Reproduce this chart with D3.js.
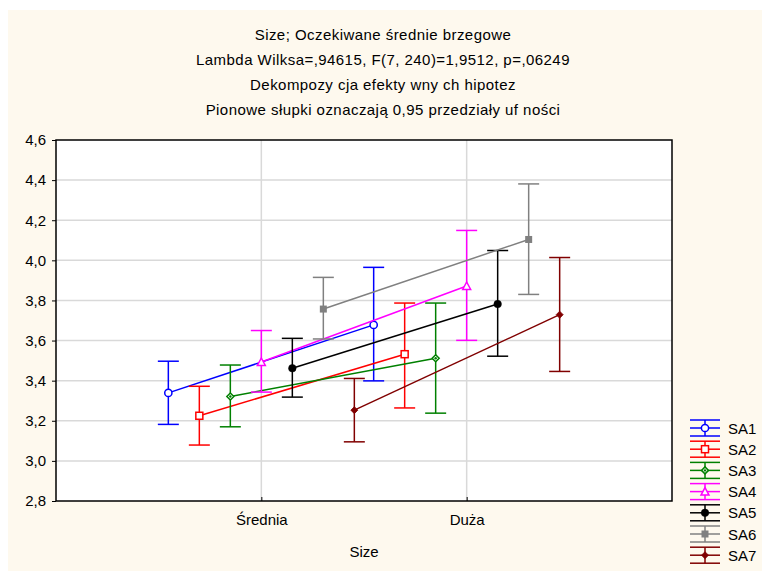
<!DOCTYPE html>
<html>
<head>
<meta charset="utf-8">
<script src="https://cdn.jsdelivr.net/npm/d3@7"></script>
<style>
  body { margin: 0; background: #fff; }
  svg { display: block; font-family: "Liberation Sans", Arial, sans-serif; }
</style>
</head>
<body>
<div id="chart"></div>
<script>
// Data
var categories = ["Średnia", "Duża"];
var seriesNames = ["SA1", "SA2", "SA3", "SA4", "SA5", "SA6", "SA7"];
var means = [
  [3.339, 3.678],
  [3.225, 3.532],
  [3.321, 3.512],
  [3.493, 3.872],
  [3.462, 3.782],
  [3.757, 4.104],
  [3.253, 3.729]
];
var lowerCI = [
  [3.182, 3.399],
  [3.079, 3.264],
  [3.170, 3.238],
  [3.343, 3.601],
  [3.318, 3.522],
  [3.608, 3.830],
  [3.095, 3.446]
];
var upperCI = [
  [3.497, 3.965],
  [3.372, 3.787],
  [3.478, 3.787],
  [3.650, 4.149],
  [3.611, 4.049],
  [3.915, 4.381],
  [3.411, 4.014]
];
var yTicks = [2.8, 3.0, 3.2, 3.4, 3.6, 3.8, 4.0, 4.2, 4.4, 4.6];
var titleLines = [
  "Size; Oczekiwane średnie brzegowe",
  "Lambda Wilksa=,94615, F(7, 240)=1,9512, p=,06249",
  "Dekompozy cja efekty wny ch hipotez",
  "Pionowe słupki oznaczają 0,95 przedziały  uf ności"
];

var colors = ["#0000ff", "#ff0000", "#008000", "#ff00ff", "#000000", "#808080", "#800000"];
var markers = ["circleOpen", "squareOpen", "diamondOpen", "triangleOpen", "circle", "square", "diamond"];

var W = 762, H = 571;
var plot = { left: 56, right: 672, top: 140, bottom: 501 };
var fontSize = "15px";

var svg = d3.select("#chart").append("svg")
  .attr("width", W)
  .attr("height", H);

// cream background
svg.append("rect")
  .attr("x", 8).attr("y", 10)
  .attr("width", W - 8).attr("height", H - 10)
  .attr("fill", "#fef9ee");

// titles
svg.selectAll(".title")
  .data(titleLines)
  .enter().append("text")
  .attr("class", "title")
  .attr("x", 383)
  .attr("y", (d, i) => 40 + i * 25)
  .attr("text-anchor", "middle")
  .style("font-size", fontSize)
  .style("letter-spacing", "0.45px")
  .attr("fill", "#000")
  .text(d => d);

// scales
var x = d3.scalePoint().domain(categories).range([plot.left, plot.right]).padding(1);
var xOff = d3.scalePoint().domain(seriesNames).range([-93, 93]);
var y = d3.scaleLinear().domain([2.8, 4.6]).range([plot.bottom, plot.top]);

// plot background
svg.append("rect")
  .attr("x", plot.left).attr("y", plot.top)
  .attr("width", plot.right - plot.left).attr("height", plot.bottom - plot.top)
  .attr("fill", "#fff");

// grid
svg.append("g").selectAll("line")
  .data(yTicks.slice(1, -1))
  .enter().append("line")
  .attr("x1", plot.left).attr("x2", plot.right)
  .attr("y1", d => y(d)).attr("y2", d => y(d))
  .attr("stroke", "#d9d9d9").attr("stroke-width", 1.5);

svg.append("g").selectAll("line")
  .data(categories)
  .enter().append("line")
  .attr("x1", d => x(d)).attr("x2", d => x(d))
  .attr("y1", plot.top).attr("y2", plot.bottom)
  .attr("stroke", "#d9d9d9").attr("stroke-width", 1.5);

// axes
var yAxis = svg.append("g")
  .attr("transform", "translate(" + plot.left + ",0)")
  .call(d3.axisLeft(y).tickValues(yTicks).tickSize(4).tickPadding(6)
    .tickFormat(d => d3.format(".1f")(d).replace(".", ",")));
yAxis.select(".domain").remove();
yAxis.selectAll("text").style("font-size", fontSize).attr("fill", "#000")
  .style("font-family", "'Liberation Sans', Arial, sans-serif");

var xAxis = svg.append("g")
  .attr("transform", "translate(0," + plot.bottom + ")")
  .call(d3.axisBottom(x).tickSize(-4).tickPadding(13));
xAxis.select(".domain").remove();
xAxis.selectAll("text").style("font-size", fontSize).attr("fill", "#000")
  .style("font-family", "'Liberation Sans', Arial, sans-serif");

svg.append("text")
  .attr("x", (plot.left + plot.right) / 2)
  .attr("y", 557)
  .attr("text-anchor", "middle")
  .style("font-size", fontSize)
  .text("Size");

// marker drawing
function drawMarker(g, type, color) {
  var open = type.indexOf("Open") >= 0;
  var fill = open ? "#fff" : color;
  if (type.indexOf("circle") === 0) {
    g.append("circle").attr("r", open ? 3.6 : 3.8)
      .attr("fill", fill).attr("stroke", color).attr("stroke-width", open ? 1.5 : 0.5);
  } else if (type.indexOf("square") === 0) {
    g.append("rect").attr("x", -3.5).attr("y", -3.5).attr("width", 7).attr("height", 7)
      .attr("fill", fill).attr("stroke", color).attr("stroke-width", open ? 1.5 : 0);
  } else if (type.indexOf("triangle") === 0) {
    g.append("path").attr("d", "M0,-4L4,3.5L-4,3.5Z")
      .attr("fill", fill).attr("stroke", color).attr("stroke-width", 1.5);
  } else if (type === "diamondOpen") {
    g.append("path").attr("d", "M0,-3.5L3.5,0L0,3.5L-3.5,0Z")
      .attr("fill", "#fff").attr("stroke", color).attr("stroke-width", 1.5);
    g.append("circle").attr("r", 1.2).attr("fill", color);
  } else {
    g.append("path").attr("d", "M0,-3.5L3.5,0L0,3.5L-3.5,0Z")
      .attr("fill", color).attr("stroke", color).attr("stroke-width", 0.8);
  }
}

// series
var capW = 10.5;
seriesNames.forEach(function(name, s) {
  var col = colors[s];
  var g = svg.append("g").attr("class", "series");
  var pts = categories.map((c, i) => ({
    x: x(c) + xOff(name), m: means[s][i], lo: lowerCI[s][i], hi: upperCI[s][i]
  }));

  // error bars
  pts.forEach(function(p) {
    g.append("line").attr("x1", p.x).attr("x2", p.x)
      .attr("y1", y(p.lo)).attr("y2", y(p.hi))
      .attr("stroke", col).attr("stroke-width", 1.5);
    [p.lo, p.hi].forEach(function(v) {
      g.append("line").attr("x1", p.x - capW).attr("x2", p.x + capW)
        .attr("y1", y(v)).attr("y2", y(v))
        .attr("stroke", col).attr("stroke-width", 1.5);
    });
  });

  g.append("path")
    .datum(pts)
    .attr("fill", "none")
    .attr("stroke", col)
    .attr("stroke-width", 1.5)
    .attr("d", d3.line().x(d => d.x).y(d => y(d.m)));

  pts.forEach(function(p) {
    var mg = g.append("g").attr("transform", "translate(" + p.x + "," + y(p.m) + ")");
    drawMarker(mg, markers[s], col);
  });
});

// plot frame
svg.append("rect")
  .attr("x", plot.left).attr("y", plot.top)
  .attr("width", plot.right - plot.left).attr("height", plot.bottom - plot.top)
  .attr("fill", "none").attr("stroke", "#000").attr("stroke-width", 1.5);

// legend
var legend = svg.append("g").attr("transform", "translate(690,428)");
seriesNames.forEach(function(name, s) {
  var col = colors[s];
  var lg = legend.append("g").attr("transform", "translate(0," + (s * 21.2) + ")");
  [-8, 0, 8].forEach(function(dy) {
    lg.append("line").attr("x1", 0).attr("x2", 30).attr("y1", dy).attr("y2", dy)
      .attr("stroke", col).attr("stroke-width", 1.5);
  });
  lg.append("line").attr("x1", 15).attr("x2", 15).attr("y1", -8).attr("y2", 8)
    .attr("stroke", col).attr("stroke-width", 1.5);
  var mg = lg.append("g").attr("transform", "translate(15,0)");
  drawMarker(mg, markers[s], col);
  lg.append("text").attr("x", 38).attr("y", 5.5)
    .style("font-size", fontSize).text(name);
});
</script>
</body>
</html>
